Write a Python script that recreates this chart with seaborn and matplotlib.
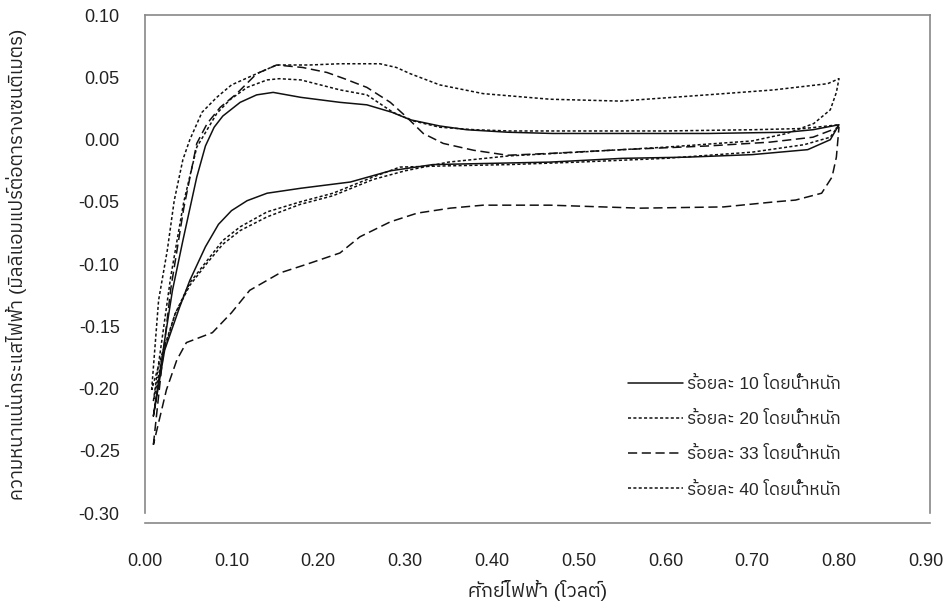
import pandas as pd
import numpy as np
import matplotlib
matplotlib.use("Agg")
import matplotlib.pyplot as plt
import seaborn as sns
from matplotlib import font_manager as fm
from matplotlib.ft2font import FT2Font
from matplotlib.ticker import MultipleLocator

# cyclic voltammograms, forward (up) sweep then reverse (down) sweep
v10_up = [0.010, 0.023, 0.032, 0.044, 0.060, 0.070, 0.080, 0.090, 0.110, 0.129, 0.148, 0.180, 0.225, 0.256, 0.285, 0.306, 0.340, 0.371, 0.418, 0.470, 0.550, 0.650, 0.740, 0.770, 0.800]
i10_up = [-0.222, -0.161, -0.121, -0.081, -0.030, -0.005, 0.010, 0.019, 0.030, 0.036, 0.038, 0.034, 0.030, 0.028, 0.022, 0.016, 0.011, 0.008, 0.006, 0.005, 0.005, 0.005, 0.006, 0.008, 0.012]
v10_down = [0.800, 0.790, 0.764, 0.700, 0.626, 0.550, 0.467, 0.400, 0.332, 0.283, 0.237, 0.180, 0.141, 0.118, 0.100, 0.085, 0.070, 0.052, 0.040, 0.023, 0.010]
i10_down = [0.012, 0.000, -0.008, -0.012, -0.014, -0.015, -0.018, -0.019, -0.020, -0.025, -0.034, -0.039, -0.043, -0.049, -0.057, -0.068, -0.086, -0.113, -0.135, -0.169, -0.222]

v20_up = [0.010, 0.020, 0.030, 0.045, 0.060, 0.083, 0.098, 0.118, 0.141, 0.155, 0.180, 0.225, 0.256, 0.286, 0.310, 0.340, 0.380, 0.420, 0.500, 0.600, 0.700, 0.760, 0.800]
i20_up = [-0.210, -0.160, -0.110, -0.050, -0.006, 0.021, 0.032, 0.042, 0.048, 0.049, 0.048, 0.040, 0.036, 0.022, 0.015, 0.010, 0.008, 0.007, 0.007, 0.007, 0.008, 0.009, 0.012]
v20_down = [0.800, 0.790, 0.760, 0.700, 0.600, 0.500, 0.420, 0.350, 0.294, 0.263, 0.217, 0.179, 0.141, 0.110, 0.090, 0.072, 0.052, 0.035, 0.020, 0.010]
i20_down = [0.012, 0.002, -0.004, -0.010, -0.015, -0.018, -0.020, -0.021, -0.022, -0.030, -0.043, -0.050, -0.058, -0.070, -0.081, -0.097, -0.115, -0.140, -0.175, -0.210]

v33_up = [0.010, 0.020, 0.030, 0.045, 0.060, 0.072, 0.087, 0.106, 0.129, 0.152, 0.182, 0.210, 0.230, 0.256, 0.283, 0.302, 0.321, 0.344, 0.379, 0.418, 0.467, 0.550, 0.650, 0.720, 0.770, 0.800]
i33_up = [-0.245, -0.180, -0.120, -0.055, -0.003, 0.013, 0.026, 0.037, 0.053, 0.060, 0.058, 0.054, 0.049, 0.042, 0.030, 0.018, 0.005, -0.003, -0.0085, -0.0125, -0.011, -0.008, -0.005, -0.002, 0.002, 0.010]
v33_down = [0.800, 0.797, 0.792, 0.780, 0.750, 0.725, 0.667, 0.571, 0.467, 0.390, 0.352, 0.314, 0.283, 0.248, 0.225, 0.187, 0.156, 0.121, 0.100, 0.078, 0.048, 0.037, 0.025, 0.010]
i33_down = [0.010, -0.014, -0.030, -0.043, -0.0485, -0.050, -0.054, -0.055, -0.0526, -0.0526, -0.055, -0.059, -0.066, -0.078, -0.091, -0.100, -0.107, -0.121, -0.139, -0.155, -0.163, -0.177, -0.201, -0.245]

v40_up = [0.008, 0.016, 0.026, 0.034, 0.044, 0.052, 0.066, 0.083, 0.100, 0.129, 0.152, 0.190, 0.225, 0.271, 0.290, 0.306, 0.340, 0.390, 0.467, 0.548, 0.648, 0.725, 0.787, 0.800]
i40_up = [-0.201, -0.129, -0.089, -0.049, -0.016, 0.000, 0.022, 0.034, 0.044, 0.053, 0.060, 0.060, 0.061, 0.061, 0.058, 0.053, 0.044, 0.037, 0.0325, 0.031, 0.036, 0.040, 0.045, 0.049]
v40_down = [0.800, 0.797, 0.790, 0.771, 0.740, 0.700, 0.600, 0.500, 0.420, 0.350, 0.300, 0.263, 0.217, 0.179, 0.141, 0.110, 0.090, 0.072, 0.052, 0.035, 0.020, 0.008]
i40_down = [0.049, 0.038, 0.024, 0.013, 0.005, -0.001, -0.006, -0.010, -0.013, -0.018, -0.025, -0.032, -0.045, -0.052, -0.062, -0.073, -0.084, -0.099, -0.117, -0.140, -0.172, -0.201]

labels = ['ร้อยละ 10 โดยน้ำหนัก', 'ร้อยละ 20 โดยน้ำหนัก', 'ร้อยละ 33 โดยน้ำหนัก', 'ร้อยละ 40 โดยน้ำหนัก']
x_ticks = [0.0, 0.1, 0.2, 0.3, 0.4, 0.5, 0.6, 0.7, 0.8, 0.9]
y_ticks = [-0.30, -0.25, -0.20, -0.15, -0.10, -0.05, 0.00, 0.05, 0.10]

curves = [
    (v10_up + v10_down, i10_up + i10_down),
    (v20_up + v20_down, i20_up + i20_down),
    (v33_up + v33_down, i33_up + i33_down),
    (v40_up + v40_down, i40_up + i40_down),
]
frames = []
for lab, (v, i) in zip(labels, curves):
    frames.append(pd.DataFrame({'V': v, 'I': i, 'label': lab, 'order': range(len(v))}))
df = pd.concat(frames, ignore_index=True)

sns.set_style('white')

# find an installed font that has Thai glyphs
thai_font = None
for path in sorted(fm.findSystemFonts()):
    try:
        if 0x0E01 in FT2Font(path).get_charmap():
            thai_font = fm.FontProperties(fname=path).get_name()
            if 'Sans' in thai_font:
                break
    except Exception:
        pass
families = ['Liberation Sans']
if thai_font:
    families.append(thai_font)
families.append('DejaVu Sans')
plt.rcParams['font.family'] = families

fig = plt.figure(figsize=(9.52, 6.08), dpi=100)
ax = fig.add_axes([0.152, 0.156, 0.825, 0.819])

sns.lineplot(data=df, x='V', y='I', hue='label', style='label', sort=False, estimator=None,
             palette=['#111111'] * 4, dashes=['', (2, 1.5), (6, 3), (2, 1.5)],
             linewidth=1.1, ax=ax)

ax.set_xlim(0, 0.905)
ax.set_ylim(-0.30, 0.10)
ax.set_xticks(x_ticks)
ax.set_xticklabels([f'{t:.2f}' for t in x_ticks])
ax.set_yticks(y_ticks)
ax.set_yticklabels([f'{t:.2f}' for t in y_ticks])
ax.xaxis.set_minor_locator(MultipleLocator(0.02))
ax.yaxis.set_minor_locator(MultipleLocator(0.01))

for s in ax.spines.values():
    s.set_color('#888888')
    s.set_linewidth(1.2)
ax.spines['bottom'].set_position(('outward', 7))

ax.tick_params(axis='both', which='both', direction='in', color='#777777', labelsize=13, labelcolor='#222222')
ax.tick_params(axis='x', which='major', length=5, pad=22)
ax.tick_params(axis='x', which='minor', length=3)
ax.tick_params(axis='y', which='major', length=3, pad=18)
ax.tick_params(axis='y', which='minor', length=3)
ax.tick_params(top=False, right=False)

ax.set_xlabel('ศักย์ไฟฟ้า (โวลต์)', fontsize=14, color='#222222')
ax.set_ylabel('ความหนาแน่นกระแสไฟฟ้า (มิลลิแอมแปร์ต่อตารางเซนติเมตร)', fontsize=13.5, color='#222222')
ax.xaxis.set_label_coords(0.5, -0.135)
ax.yaxis.set_label_coords(-0.15, 0.5)

ax.legend(loc='upper left', bbox_to_anchor=(0.615, 0.275), frameon=False, fontsize=12.5,
          handlelength=3.2, handletextpad=0.2, labelspacing=1.1, borderpad=0, borderaxespad=0)

fig.savefig('out.png', dpi=100)
